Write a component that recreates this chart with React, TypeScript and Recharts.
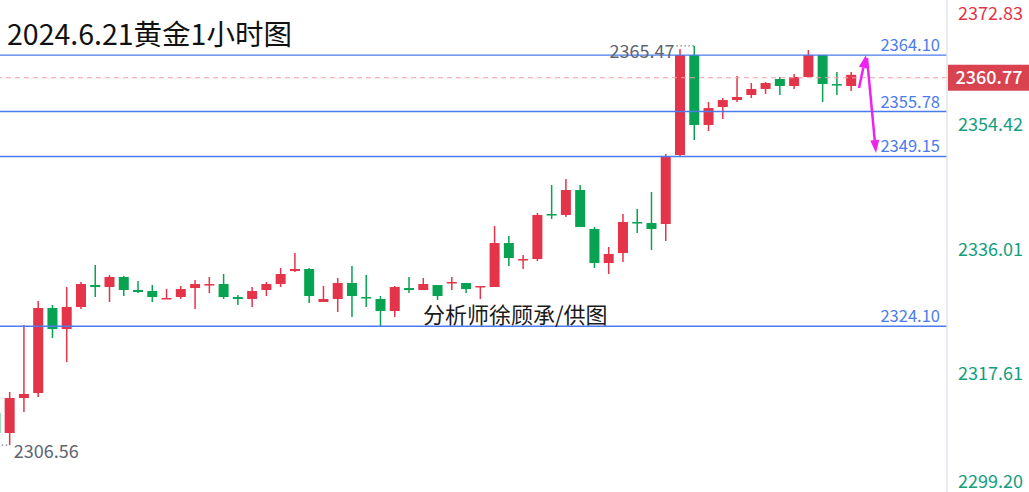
import React from 'react';
import { ComposedChart, Bar, XAxis, YAxis, ReferenceLine, ReferenceDot } from 'recharts';

// 1小时K线 (index 0 = 最左边被截掉的那根)
const OPEN = [
  2311.30, 2308.35, 2313.51, 2314.25, 2326.79, 2323.69, 2326.94, 2330.18, 2329.89, 2331.37,
  2329.45, 2329.30, 2328.12, 2328.41, 2329.74, 2330.18, 2330.33, 2328.41, 2328.12, 2329.45,
  2330.33, 2332.25, 2332.55, 2327.68, 2328.12, 2330.48, 2328.41, 2328.12, 2326.35, 2329.74,
  2329.45, 2330.18, 2330.48, 2330.48, 2329.89, 2329.89, 2336.38, 2333.87, 2334.02, 2340.66,
  2340.52, 2344.20, 2338.45, 2333.43, 2334.91, 2339.48, 2339.33, 2339.19, 2349.37, 2364.12,
  2353.80, 2356.45, 2357.48, 2358.22, 2359.11, 2360.58, 2359.55, 2360.88, 2364.12, 2359.84,
  2359.55,
];
const HIGH = [
  2311.74, 2314.40, 2324.28, 2327.82, 2327.23, 2329.89, 2330.63, 2333.14, 2331.66, 2331.51,
  2330.78, 2330.18, 2329.59, 2330.04, 2330.92, 2331.37, 2331.81, 2328.71, 2329.89, 2330.63,
  2332.69, 2334.91, 2332.69, 2330.04, 2331.22, 2332.99, 2331.66, 2328.56, 2330.04, 2331.37,
  2331.22, 2330.18, 2331.37, 2330.48, 2330.04, 2338.89, 2337.42, 2334.61, 2340.81, 2344.94,
  2345.83, 2344.94, 2338.74, 2335.79, 2340.66, 2341.40, 2343.91, 2349.52, 2365.01, 2365.47,
  2357.19, 2357.78, 2361.03, 2359.99, 2360.14, 2360.88, 2361.32, 2364.86, 2364.12, 2361.62,
  2361.62,
];
const LOW = [
  2307.90, 2306.56, 2311.45, 2313.66, 2322.36, 2318.82, 2326.64, 2328.41, 2327.68, 2328.56,
  2329.00, 2327.68, 2328.12, 2328.12, 2326.64, 2329.00, 2328.12, 2327.23, 2326.94, 2328.56,
  2329.89, 2332.10, 2327.53, 2327.68, 2326.20, 2325.46, 2326.94, 2323.99, 2325.46, 2329.00,
  2329.45, 2327.97, 2329.45, 2329.00, 2328.12, 2329.89, 2332.99, 2332.55, 2333.73, 2339.92,
  2340.22, 2338.74, 2332.69, 2331.81, 2333.58, 2337.86, 2335.35, 2336.68, 2349.22, 2351.58,
  2352.91, 2354.68, 2357.19, 2357.78, 2358.37, 2358.22, 2359.11, 2360.88, 2357.19, 2358.22,
  2358.81,
];
const CLOSE = [
  2308.35, 2313.51, 2314.10, 2326.79, 2323.69, 2326.94, 2330.33, 2329.89, 2331.37, 2329.45,
  2329.15, 2328.41, 2328.27, 2329.59, 2330.33, 2330.33, 2328.41, 2328.12, 2329.30, 2330.33,
  2331.81, 2332.55, 2328.56, 2328.12, 2330.48, 2328.56, 2328.27, 2326.35, 2329.89, 2329.45,
  2330.33, 2328.56, 2330.63, 2329.59, 2330.04, 2336.38, 2334.17, 2334.02, 2340.52, 2340.52,
  2344.20, 2338.74, 2333.43, 2334.76, 2339.48, 2339.33, 2338.45, 2349.22, 2364.12, 2353.80,
  2356.30, 2357.48, 2357.93, 2359.11, 2359.99, 2359.55, 2360.88, 2364.12, 2359.84, 2359.70,
  2361.20,
];
const EMPTY_SLOTS = 6; // 右侧留白

const Y_TICKS = [2372.83, 2354.42, 2336.01, 2317.61, 2299.20];
const LEVELS = [2364.10, 2355.78, 2349.15, 2324.10];
const LAST_PRICE = 2360.77;
const HIGH_MARK = { i: 49, v: 2365.47 };
const LOW_MARK = { i: 1, v: 2306.56 };
// 手绘箭头 (x = K线序号)
const ARROWS = [
  [{ x: 60.54, y: 2359.25 }, { x: 61.03, y: 2364.12 }],
  [{ x: 61.10, y: 2363.68 }, { x: 61.73, y: 2349.66 }],
];

const TITLE = '2024.6.21黄金1小时图';
const WATERMARK = '分析师徐顾承/供图';

const RED = '#E3344A';
const GREEN = '#07A352';
const BLUE = '#4A7BF0';
const TEAL = '#139E7E';
const MAGENTA = '#EE22EE';
const FONT = '"Noto Sans CJK SC", "Noto Sans", sans-serif';

const data = [
  ...OPEN.map((o, i) => ({
    i,
    open: o,
    high: HIGH[i],
    low: LOW[i],
    close: CLOSE[i],
    range: [LOW[i], HIGH[i]],
  })),
  ...Array.from({ length: EMPTY_SLOTS }, (_, k) => ({ i: OPEN.length + k })),
];

const Candle = (props: any) => {
  const { x, y, width, height, payload } = props;
  if (!payload || payload.high == null) return null;
  const top = Math.min(y, y + height);
  const h = Math.abs(height);
  const span = payload.high - payload.low || 1;
  const py = (v: number) => top + ((payload.high - v) / span) * h;
  const up = payload.close >= payload.open;
  const color = up ? RED : GREEN;
  const cx = x + width / 2;
  const bTop = py(Math.max(payload.open, payload.close));
  const bBot = py(Math.min(payload.open, payload.close));
  return (
    <g>
      <line x1={cx} x2={cx} y1={top} y2={top + h} stroke={color} strokeWidth={1.5} />
      <rect x={cx - width / 2} y={bTop} width={width} height={Math.max(bBot - bTop, 1.5)} fill={color} />
    </g>
  );
};

const AxisTick = (props: any) => {
  const { x, y, payload } = props;
  const v = payload.value;
  const yy = Math.min(Math.max(y + 3.5, 14), 482);
  return (
    <text x={x + 11} y={yy} dy="0.36em" fill={v === Y_TICKS[0] ? RED : TEAL} fontSize={18} fontFamily={FONT}>
      {v.toFixed(2)}
    </text>
  );
};

const levelLabel = (v: number) => (props: any) => {
  const vb = props.viewBox;
  return (
    <text x={vb.x + vb.width - 7} y={vb.y - 4} textAnchor="end" fill={BLUE} fontSize={16.5} fontFamily={FONT}>
      {v.toFixed(2)}
    </text>
  );
};

const priceBadge = (props: any) => {
  const vb = props.viewBox;
  const bx = vb.x + vb.width + 1;
  return (
    <g>
      <rect x={bx} y={vb.y - 13} width={82} height={26} fill="#D9434F" />
      <text x={bx + 41} y={vb.y} dy="0.36em" textAnchor="middle" fill="#fff" fontSize={18} fontWeight={500} fontFamily={FONT}>
        {LAST_PRICE.toFixed(2)}
      </text>
    </g>
  );
};

const Arrow = (props: any) => {
  const { x1, y1, x2, y2 } = props;
  const ang = Math.atan2(y2 - y1, x2 - x1);
  const len = 13;
  const hw = 4.5;
  const bx = x2 - len * Math.cos(ang);
  const by = y2 - len * Math.sin(ang);
  const px = -Math.sin(ang) * hw;
  const py = Math.cos(ang) * hw;
  return (
    <g>
      <line x1={x1} y1={y1} x2={bx} y2={by} stroke={MAGENTA} strokeWidth={2.5} />
      <polygon points={`${x2},${y2} ${bx + px},${by + py} ${bx - px},${by - py}`} fill={MAGENTA} />
    </g>
  );
};

const HighMark = (props: any) => {
  const { cx, cy } = props;
  return (
    <g>
      <line x1={cx - 18} x2={cx} y1={cy} y2={cy} stroke="#5f6570" strokeDasharray="1.5 2.5" />
      <text x={cx - 20} y={cy + 12} textAnchor="end" fill="#5f6570" fontSize={18} fontFamily={FONT}>
        {HIGH_MARK.v.toFixed(2)}
      </text>
    </g>
  );
};

const LowMark = (props: any) => {
  const { cx, cy } = props;
  return (
    <g>
      <line x1={cx - 12} x2={cx} y1={cy} y2={cy} stroke="#5f6570" strokeDasharray="1.5 2.5" />
      <text x={cx + 4} y={cy + 13} fill="#5f6570" fontSize={18} fontFamily={FONT}>
        {LOW_MARK.v.toFixed(2)}
      </text>
    </g>
  );
};

export default function App() {
  const total = data.length;
  return (
    <div style={{ position: 'fixed', left: 0, top: 0, width: 1029, height: 492, background: '#fff' }}>
      <ComposedChart
        width={1029}
        height={492}
        data={data}
        margin={{ top: -4, right: 0, bottom: -3, left: -11.6 }}
      >
        <XAxis dataKey="i" type="category" hide padding={{ left: 0, right: 3 }} />
        <XAxis
          xAxisId="n"
          type="number"
          dataKey="i"
          hide
          domain={[-0.5, total - 0.5]}
          allowDataOverflow
          padding={{ left: 0, right: 3 }}
        />
        <YAxis
          orientation="right"
          width={82}
          domain={[2299.2, 2372.83]}
          ticks={Y_TICKS}
          interval={0}
          tick={AxisTick}
          tickLine={false}
          tickSize={0}
          tickMargin={0}
          axisLine={{ stroke: '#E1E4EA', strokeWidth: 1.5 }}
        />
        {LEVELS.map((v) => (
          <ReferenceLine key={v} y={v} stroke={BLUE} strokeWidth={1.4} label={levelLabel(v)} />
        ))}
        <ReferenceLine y={LAST_PRICE} stroke="#F2A0A4" strokeDasharray="5 4" strokeWidth={1.2} label={priceBadge} />
        <Bar dataKey="range" barSize={10} shape={<Candle />} isAnimationActive={false} />
        {ARROWS.map((seg, k) => (
          <ReferenceLine key={k} xAxisId="n" segment={seg} shape={<Arrow />} ifOverflow="visible" />
        ))}
        <ReferenceDot xAxisId="n" x={HIGH_MARK.i} y={HIGH_MARK.v} r={0} shape={<HighMark />} />
        <ReferenceDot xAxisId="n" x={LOW_MARK.i} y={LOW_MARK.v} r={0} shape={<LowMark />} />
      </ComposedChart>
      <svg width={1029} height={492} style={{ position: 'absolute', left: 0, top: 0, pointerEvents: 'none' }}>
        <text x={7} y={45} fontSize={28.5} fill="#111" fontFamily={FONT}>{TITLE}</text>
        <text x={423} y={323} fontSize={22} fill="#1a1a1a" fontFamily={FONT}>{WATERMARK}</text>
      </svg>
    </div>
  );
}
